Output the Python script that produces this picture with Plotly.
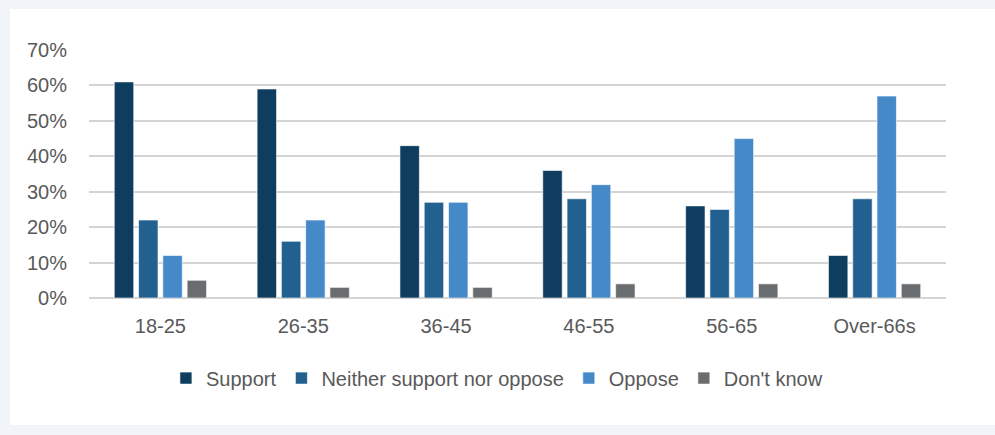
import plotly.graph_objects as go

categories = ["18-25", "26-35", "36-45", "46-55", "56-65", "Over-66s"]
support = [61, 59, 43, 36, 26, 12]
neither = [22, 16, 27, 28, 25, 28]
oppose = [12, 22, 27, 32, 45, 57]
dont_know = [5, 3, 3, 4, 4, 4]
tick_vals = [0, 10, 20, 30, 40, 50, 60, 70]
tick_text = ["0%", "10%", "20%", "30%", "40%", "50%", "60%", "70%"]

series = [
    ("Support", support, "#0e3d5f"),
    ("Neither support nor oppose", neither, "#22608f"),
    ("Oppose", oppose, "#4589c8"),
    ("Don't know", dont_know, "#6a6d6f"),
]

fig = go.Figure()
for name, vals, color in series:
    fig.add_trace(go.Bar(
        x=categories, y=vals, name=name,
        marker=dict(color=color, line=dict(color="rgba(255,255,255,0.6)", width=1)),
    ))

fig.add_shape(type="rect", xref="paper", yref="paper",
              x0=-0.0922, x1=1.07, y0=-0.512, y1=1.165,
              fillcolor="white", line=dict(width=0), layer="below")

fig.update_layout(
    width=995, height=435,
    paper_bgcolor="#f1f5f9", plot_bgcolor="white",
    margin=dict(l=89, r=49, t=50, b=137),
    barmode="group", bargap=0.32, bargroupgap=0.2,
    font=dict(family="Liberation Sans, Arial, sans-serif", color="#595959", size=20),
    showlegend=True,
    legend=dict(orientation="h", x=0.476, xanchor="center", y=-0.323, yanchor="middle",
                font=dict(size=20, color="#595959"), traceorder="normal",
                itemwidth=30, bgcolor="rgba(0,0,0,0)"),
    xaxis=dict(showgrid=False, showline=False, ticks="", tickfont=dict(size=20),
               ticklabelstandoff=14),
    yaxis=dict(range=[0, 70], tickvals=tick_vals, ticktext=tick_text,
               showgrid=True, gridcolor="#d4d4d4", gridwidth=1.5,
               zeroline=True, zerolinecolor="#d4d4d4", zerolinewidth=1.5,
               ticks="", tickfont=dict(size=20), ticklabelstandoff=21),
)

fig.write_html(
    "out.html",
    config={"displayModeBar": False},
    post_script="document.body.style.margin='0';document.body.style.background='#f1f5f9';",
)
